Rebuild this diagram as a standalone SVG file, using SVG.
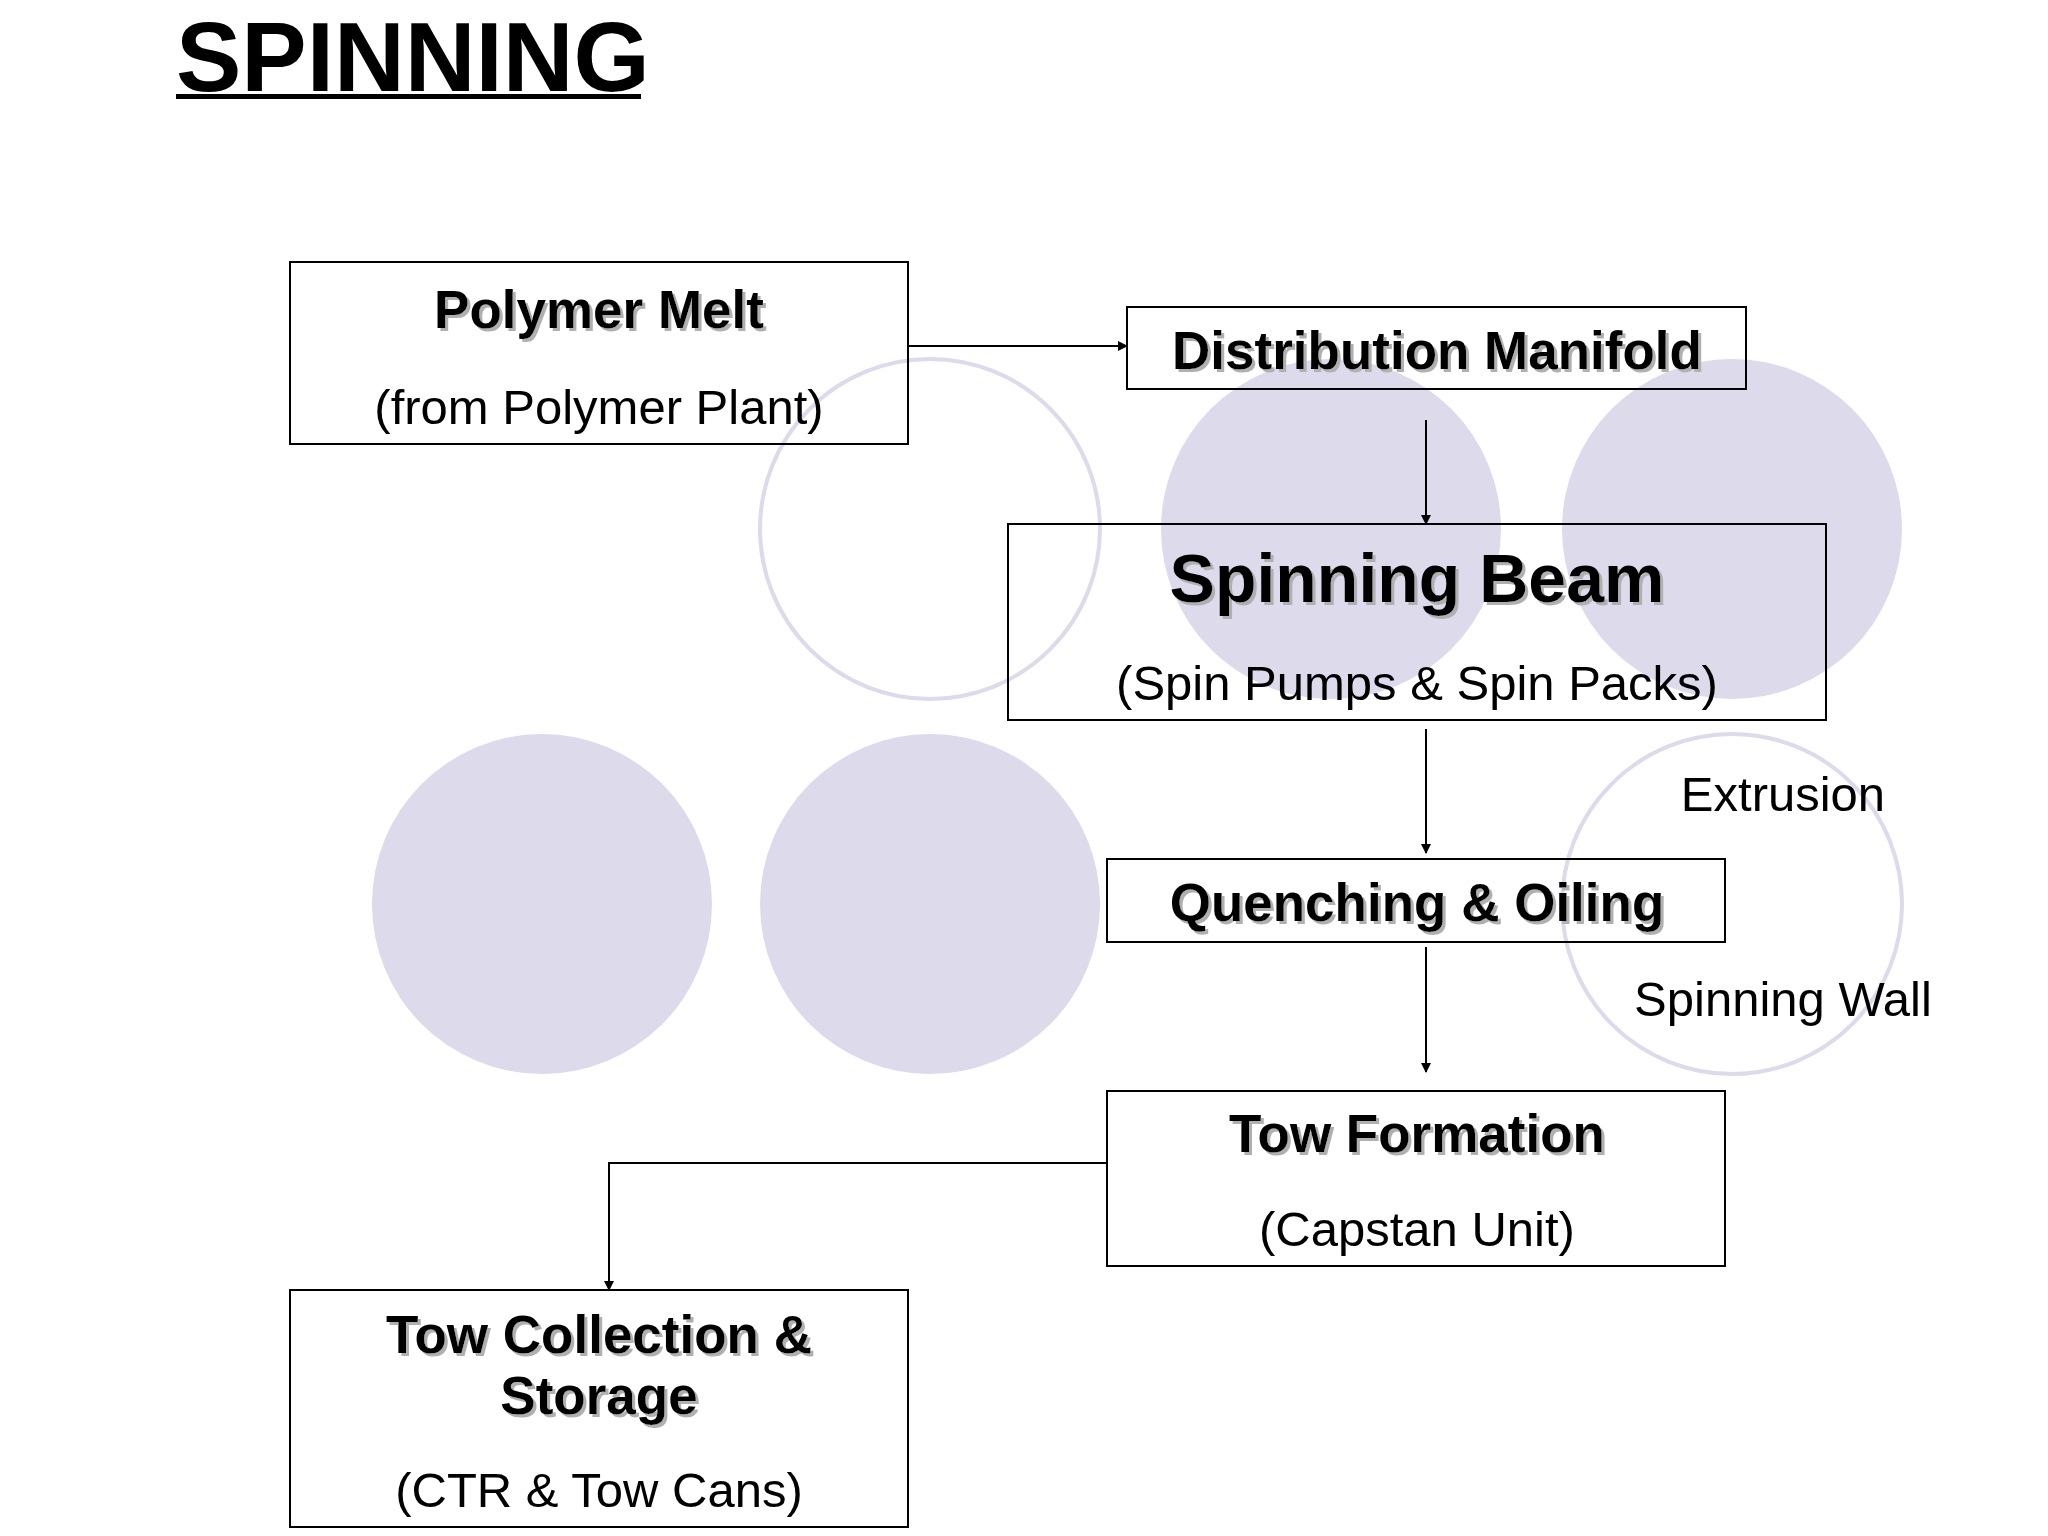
<svg xmlns="http://www.w3.org/2000/svg" width="2048" height="1536" viewBox="0 0 2048 1536">
<style>
text{font-family:"Liberation Sans",Arial,sans-serif;fill:#000;text-anchor:middle}
.b{font-weight:bold;font-size:53px;filter:url(#sh)}
.n{font-size:49px}
.box{fill:none;stroke:#000;stroke-width:2}
.cf{fill:#dcdaeb}
.co{fill:none;stroke:#dcdaeb;stroke-width:4}
.c{fill:none;stroke:#000;stroke-width:2;marker-end:url(#a)}
</style>
<defs>
<marker id="a" markerWidth="10" markerHeight="10" refX="9" refY="5" orient="auto" markerUnits="userSpaceOnUse"><path d="M0,0L10,5L0,10z" fill="#000"/></marker>
<filter id="sh" x="-10%" y="-30%" width="120%" height="160%"><feDropShadow dx="3" dy="3" stdDeviation="0.5" flood-color="#b0b0b0"/></filter>
</defs>
<rect width="2048" height="1536" fill="#fff"/>
<text x="176" y="91" style="font-weight:bold;font-size:98px;text-anchor:start">SPINNING</text>
<rect x="176" y="94" width="465" height="5" fill="#000"/>
<g id="circles">
<circle class="co" cx="930" cy="529" r="170"/>
<circle class="cf" cx="1331" cy="529" r="170"/>
<circle class="cf" cx="1732" cy="529" r="170"/>
<circle class="cf" cx="542" cy="904" r="170"/>
<circle class="cf" cx="930" cy="904" r="170"/>
<circle class="co" cx="1732" cy="904" r="170"/>
</g>
<g id="connectors">
<path class="c" d="M908,346H1127"/>
<path class="c" d="M1426,420V524"/>
<path class="c" d="M1426,729V853"/>
<path class="c" d="M1426,947V1072"/>
<path class="c" d="M1107,1163H609V1290"/>
</g>
<g id="polymer"><rect class="box" x="290" y="262" width="618" height="182"/><text class="b" x="599" y="328">Polymer Melt</text><text class="n" x="599" y="424">(from Polymer Plant)</text></g>
<g id="manifold"><rect class="box" x="1127" y="307" width="619" height="82"/><text class="b" x="1437" y="369">Distribution Manifold</text></g>
<g id="beam"><rect class="box" x="1008" y="524" width="818" height="196"/><text class="b" x="1417" y="602" style="font-size:68px">Spinning Beam</text><text class="n" x="1417" y="700">(Spin Pumps &amp; Spin Packs)</text></g>
<g id="labels"><text class="n" x="1783" y="811">Extrusion</text><text class="n" x="1783" y="1016">Spinning Wall</text></g>
<g id="quench"><rect class="box" x="1107" y="859" width="618" height="83"/><text class="b" x="1417" y="921">Quenching &amp; Oiling</text></g>
<g id="tow"><rect class="box" x="1107" y="1091" width="618" height="175"/><text class="b" x="1417" y="1152">Tow Formation</text><text class="n" x="1417" y="1246">(Capstan Unit)</text></g>
<g id="collect"><rect class="box" x="290" y="1290" width="618" height="237"/><text class="b" x="599" y="1353">Tow Collection &amp;</text><text class="b" x="599" y="1414">Storage</text><text class="n" x="599" y="1507">(CTR &amp; Tow Cans)</text></g>
</svg>
